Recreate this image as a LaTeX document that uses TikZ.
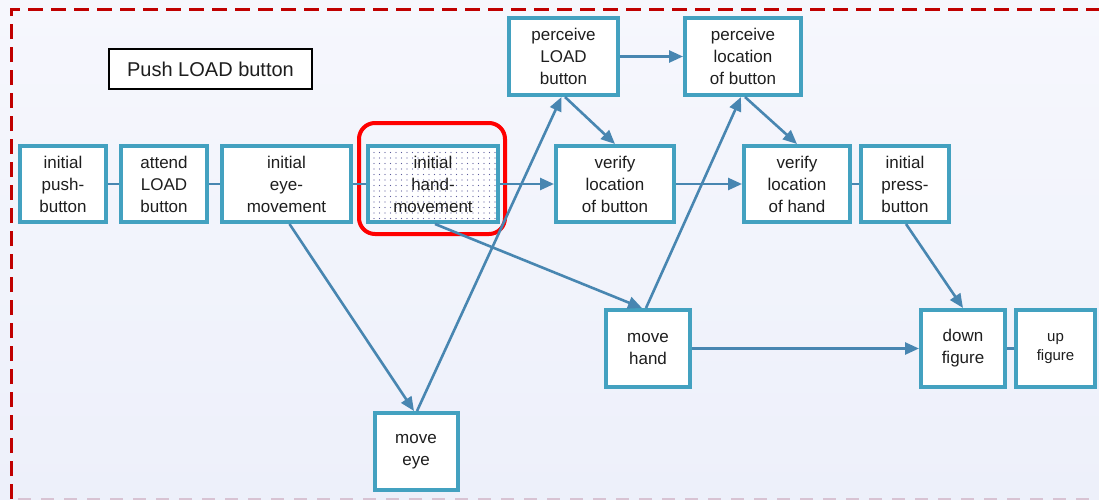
\documentclass[tikz,border=0pt]{standalone}
\usepackage{fontspec}
\setmainfont{Liberation Sans}
\usetikzlibrary{arrows.meta,patterns.meta}
\definecolor{boxedge}{HTML}{43A1C0}
\definecolor{linkblue}{HTML}{4886B1}
\definecolor{framered}{HTML}{C00000}
\definecolor{framefade}{HTML}{D8C3D3}
\definecolor{focusred}{HTML}{FF0000}
\definecolor{dotblue}{HTML}{5A5A9A}
\definecolor{bgtop}{HTML}{F6F7FD}
\definecolor{bgbot}{HTML}{EDF0FA}
\definecolor{ink}{HTML}{1E1E1E}
\begin{document}
\begin{tikzpicture}[x=1pt,y=-1pt,
  task/.style={draw=boxedge, line width=4pt, fill=white, align=center,
    inner sep=0pt, text=ink, font=\fontsize{17}{22}\selectfont},
  link/.style={draw=linkblue, line width=2.6pt},
  flow/.style={link, -{Triangle[length=14pt,width=12pt]}},
]
% canvas
\useasboundingbox (0,0) rectangle (1099,499);
\clip (0,0) rectangle (1099,499);
\shade[top color=bgtop, bottom color=bgbot] (0,0) rectangle (1099,499);

% outer dashed frame (left and top edges, bottom edge just grazing the border)
\draw[framered, line width=3pt, dash pattern=on 15pt off 8pt]
  (11.5,499) -- (11.5,9.5) -- (1120,9.5);
\draw[framefade, line width=2pt, dash pattern=on 13pt off 10pt]
  (18,498.5) -- (1099,498.5);

% title
\node[draw=black, line width=1.5pt, fill=white, minimum width=203pt, minimum height=40pt,
  inner sep=0pt, text=ink, font=\fontsize{20}{24}\selectfont] (title) at (210.5,69) {Push LOAD button};

% main row
\node[task, minimum width=86pt, minimum height=76pt] (push) at (63,184) {initial\\push-\\button};
\node[task, minimum width=86pt, minimum height=76pt] (attend) at (164,184) {attend\\LOAD\\button};
\node[task, minimum width=129pt, minimum height=76pt] (eyemove) at (286.5,184) {initial\\eye-\\movement};
\node[task, minimum width=130pt, minimum height=76pt,
  preaction={fill=white}, pattern={Dots[distance=5.5pt, radius=0.6pt]}, pattern color=dotblue]
  (handmove) at (433,184) {initial\\hand-\\movement};
\node[task, minimum width=118pt, minimum height=76pt] (vbutton) at (615,184) {verify\\location\\of button};
\node[task, minimum width=106pt, minimum height=76pt] (vhand) at (797,184) {verify\\location\\of hand};
\node[task, minimum width=88pt, minimum height=76pt] (press) at (905,184) {initial\\press-\\button};

% perception row
\node[task, minimum width=109pt, minimum height=77pt] (pload) at (563.5,56.5) {perceive\\LOAD\\button};
\node[task, minimum width=116pt, minimum height=77pt] (ploc) at (743,56.5) {perceive\\location\\of button};

% motor row
\node[task, minimum width=84pt, minimum height=77pt] (movehand) at (648,348.5) {move\\hand};
\node[task, minimum width=84pt, minimum height=77pt] (down) at (963,348.5) {down\\figure};
\node[task, minimum width=79pt, minimum height=77pt, font=\fontsize{15}{19}\selectfont] (up) at (1055.5,348.5) {up\\figure};
\node[task, minimum width=83pt, minimum height=77pt] (moveeye) at (416,451.5) {move\\eye};

% highlighted operator
\node[draw=focusred, line width=4pt, rounded corners=16pt, minimum width=146pt,
  minimum height=111pt, inner sep=0pt] (focus) at (432,178.5) {};

% sequential links
\draw[link] (push.east) -- (attend.west);
\draw[link] (attend.east) -- (eyemove.west);
\draw[link] (eyemove.east) -- (handmove.west);
\draw[flow] (handmove.east) -- (vbutton.west);
\draw[flow] (vbutton.east) -- (vhand.west);
\draw[link] (vhand.east) -- (press.west);
\draw[link] (down.east) -- (up.west);
\draw[flow] (pload.east) -- (ploc.west);
\draw[flow] (movehand.east) -- (down.west);

% cross links
\draw[flow] ([xshift=3pt]eyemove.south) -- ([xshift=-2pt]moveeye.north);
\draw[flow] ([xshift=1pt]moveeye.north) -- ([xshift=-2pt]pload.south);
\draw[flow] ([xshift=1.5pt]pload.south) -- (vbutton.north);
\draw[flow] ([xshift=2pt]ploc.south) -- (vhand.north);
\draw[flow] ([xshift=2pt]handmove.south) -- ([xshift=-6pt]movehand.north);
\draw[flow] ([xshift=-2pt]movehand.north) -- ([xshift=-2pt]ploc.south);
\draw[flow] ([xshift=1pt]press.south) -- (down.north);
\end{tikzpicture}
\end{document}
